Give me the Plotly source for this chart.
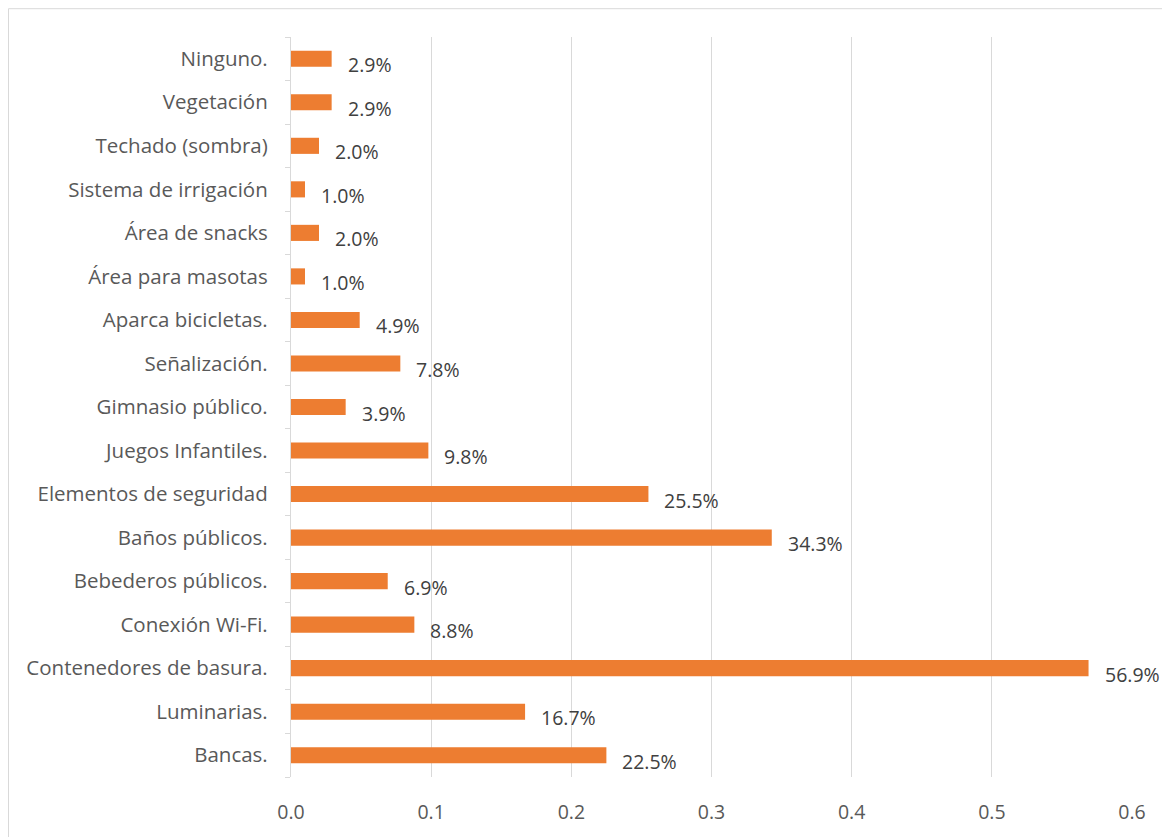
import plotly.graph_objects as go

categories = ["Bancas.", "Luminarias.", "Contenedores de basura.", "Conexión Wi-Fi.",
              "Bebederos públicos.", "Baños públicos.", "Elementos de seguridad",
              "Juegos Infantiles.", "Gimnasio público.", "Señalización.",
              "Aparca bicicletas.", "Área para masotas", "Área de snacks",
              "Sistema de irrigación", "Techado (sombra)", "Vegetación", "Ninguno."]
values = [0.225, 0.167, 0.569, 0.088, 0.069, 0.343, 0.255, 0.098, 0.039, 0.078,
          0.049, 0.010, 0.020, 0.010, 0.020, 0.029, 0.029]
labels = ["22.5%", "16.7%", "56.9%", "8.8%", "6.9%", "34.3%", "25.5%", "9.8%", "3.9%",
          "7.8%", "4.9%", "1.0%", "2.0%", "1.0%", "2.0%", "2.9%", "2.9%"]
x_ticks = [0, 0.1, 0.2, 0.3, 0.4, 0.5, 0.6]
x_tick_text = ["0.0", "0.1", "0.2", "0.3", "0.4", "0.5", "0.6"]

FONT = "Open Sans"
FS = 20.5
AXIS_TXT = "#595959"
LBL_TXT = "#404040"

fig = go.Figure(go.Bar(
    x=values, y=categories, orientation="h",
    marker=dict(color="#ED7D31", line=dict(width=0)),
    hoverinfo="skip",
))

for c, v, t in zip(categories, values, labels):
    fig.add_annotation(x=v, y=c, text=t, showarrow=False, xanchor="left",
                       yanchor="middle", xshift=14, yshift=-6,
                       font=dict(family=FONT, size=FS - 1, color=LBL_TXT))

# page offset of 8px is compensated in figure size/margins
W, H = 1162, 829
L, R, T, B = 283, 38, 29, 55
pw, ph = W - L - R, H - T - B

def px_x(p):
    return (p - L) / pw

def px_y(p):
    return (H - B - p) / ph

fig.add_shape(type="rect", xref="paper", yref="paper",
              x0=px_x(0.5), x1=px_x(1156.5), y0=px_y(835), y1=px_y(0.5),
              line=dict(color="#D9D9D9", width=1), fillcolor="rgba(0,0,0,0)", layer="below")

fig.update_layout(
    width=W, height=H,
    margin=dict(l=L, r=R, t=T, b=B, pad=0),
    paper_bgcolor="white", plot_bgcolor="white",
    bargap=0.63, showlegend=False,
    font=dict(family=FONT, size=FS, color=AXIS_TXT),
    xaxis=dict(range=[0, 0.6], tickvals=x_ticks, ticktext=x_tick_text,
               showgrid=True, gridcolor="#D9D9D9", gridwidth=1.3,
               zeroline=False, showline=False, ticks="",
               ticklabelstandoff=21,
               tickfont=dict(family=FONT, size=FS - 1, color=AXIS_TXT)),
    yaxis=dict(categoryorder="array", categoryarray=categories,
               showgrid=False, zeroline=False, showline=True,
               linecolor="#D9D9D9", linewidth=1.3,
               ticks="outside", tickson="boundaries", ticklen=5,
               tickcolor="#D9D9D9", tickwidth=1.3,
               ticklabelstandoff=18,
               tickfont=dict(family=FONT, size=FS, color=AXIS_TXT)),
)

fig.write_html("out.html")
